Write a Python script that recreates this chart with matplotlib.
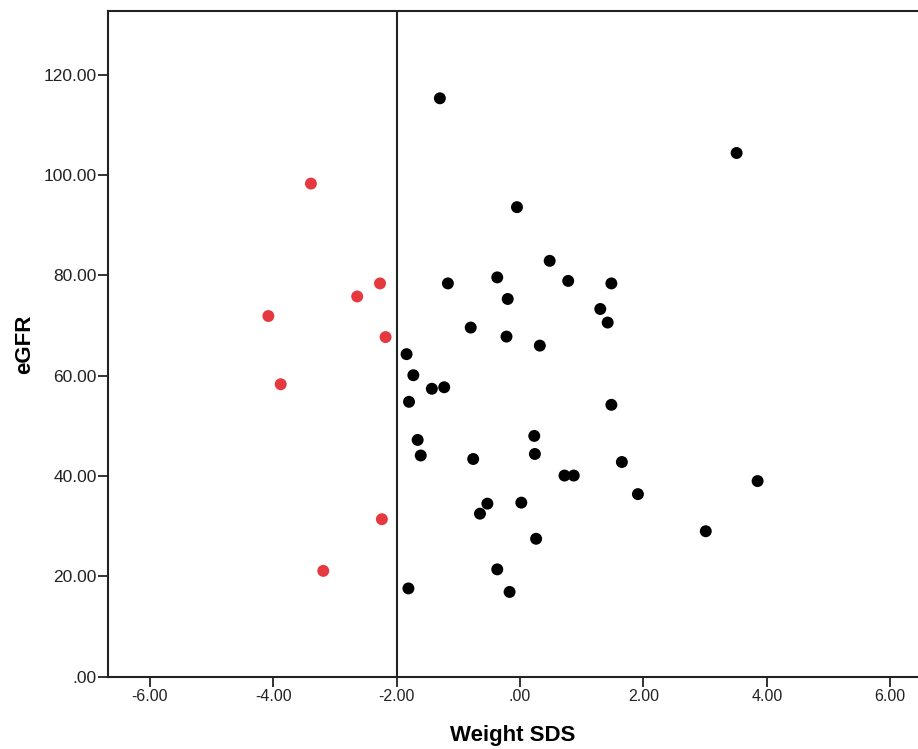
import matplotlib
matplotlib.use('Agg')
import matplotlib.pyplot as plt
from matplotlib.ticker import FuncFormatter

# below the -2 SDS cut-off (red)
low_sds = [-3.39, -2.27, -2.64, -4.08, -2.18, -3.88, -2.24, -3.19]
low_egfr = [98.3, 78.4, 75.8, 71.9, 67.7, 58.3, 31.4, 21.1]

# everyone else (black)
sds = [-1.30, 3.51, -0.05, 0.48, -0.37, 0.78, 1.48, -1.17, -0.20, 1.30,
       1.42, -0.80, -0.22, 0.32, -1.84, -1.73, -1.43, -1.23, -1.80, 1.48,
       0.23, -1.66, -1.61, 0.24, -0.76, 1.65, 0.72, 0.87, 3.85, 1.91,
       -0.53, 0.02, -0.65, 3.01, 0.26, -0.37, -1.81, -0.17]
egfr = [115.3, 104.4, 93.6, 82.9, 79.6, 78.9, 78.4, 78.4, 75.3, 73.3,
        70.6, 69.6, 67.8, 66.0, 64.3, 60.1, 57.4, 57.7, 54.8, 54.2,
        48.0, 47.2, 44.1, 44.4, 43.4, 42.8, 40.1, 40.1, 39.0, 36.4,
        34.5, 34.7, 32.5, 29.0, 27.5, 21.4, 17.6, 16.9]

xticks = [-6, -4, -2, 0, 2, 4, 6]
yticks = [0, 20, 40, 60, 80, 100, 120]
cutoff = -2

plt.rcParams['font.family'] = ['Liberation Sans', 'DejaVu Sans']

fig = plt.figure(figsize=(9.18, 7.49), dpi=100)
ax = fig.add_axes([0.1176, 0.0965, 0.8824, 0.8888])

ax.axvline(cutoff, color='#222222', lw=1.5, zorder=1)
ax.scatter(sds, egfr, s=74, color='black', edgecolors='none', zorder=3)
ax.scatter(low_sds, low_egfr, s=74, color='#e5393f', edgecolors='none', zorder=3)

ax.set_xlim(-6.68, 6.45)
ax.set_ylim(0, 132.7)

def spss_fmt(v, pos):
    s = '%.2f' % v
    if s.startswith('0'):
        s = s[1:]
    return s

ax.set_xticks(xticks)
ax.set_yticks(yticks)
ax.xaxis.set_major_formatter(FuncFormatter(spss_fmt))
ax.yaxis.set_major_formatter(FuncFormatter(spss_fmt))
ax.tick_params(axis='x', labelsize=11.5, colors='#222222', length=7, width=1.3, pad=2)
ax.tick_params(axis='y', labelsize=12.5, colors='#222222', length=7, width=1.3, pad=1)

for side in ['left', 'bottom', 'top']:
    ax.spines[side].set_color('#222222')
    ax.spines[side].set_linewidth(1.5)
ax.spines['right'].set_visible(False)

ax.set_xlabel('Weight SDS', fontsize=16, fontweight='bold', labelpad=15)
ax.set_ylabel('eGFR', fontsize=16, fontweight='bold', labelpad=6)

fig.savefig('out.png', dpi=100)
